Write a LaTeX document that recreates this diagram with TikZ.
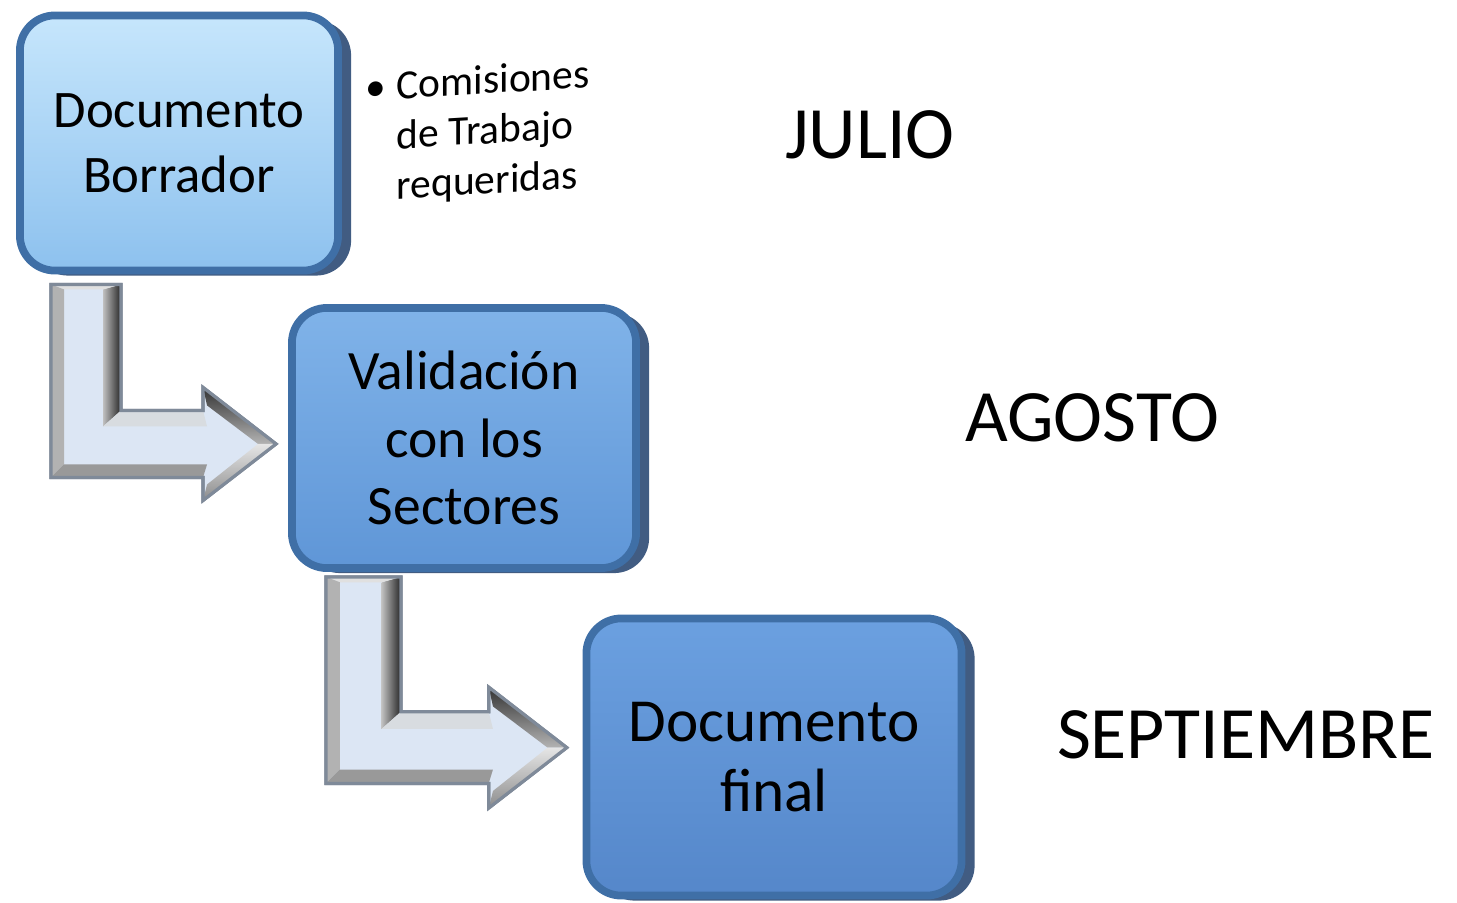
\documentclass[tikz,border=0pt]{standalone}
\usepackage{fontspec}
\setmainfont{Carlito}
\usetikzlibrary{positioning,shadows,calc}

\definecolor{edgeblue}{HTML}{3F6FA6}
\definecolor{sideblue}{HTML}{2C4A74}
\definecolor{arrowface}{HTML}{DCE6F4}
\definecolor{arrowedge}{HTML}{7F8A99}
\definecolor{draftTop}{HTML}{C6E6FC}
\definecolor{draftBot}{HTML}{8DC1EE}
\definecolor{validTop}{HTML}{80B3E9}
\definecolor{validBot}{HTML}{5F96D7}
\definecolor{finalTop}{HTML}{6BA0E0}
\definecolor{finalBot}{HTML}{5587CA}

\tikzset{
  stage/.style={rectangle, rounded corners=0.35cm, draw=edgeblue, line width=2.2pt,
    align=center, inner sep=0pt,
    drop shadow={shadow xshift=0.13cm, shadow yshift=-0.05cm, fill=sideblue, opacity=0.9}},
  month/.style={font=\fontsize{21pt}{25pt}\selectfont},
  note/.style={font=\fontsize{11.8pt}{14.2pt}\selectfont, inner sep=0pt, yslant=0.06},
  bentarrow/.pic={
    % body of the bent arrow
    \draw[fill=arrowface, draw=arrowedge, line width=0.9pt, line join=miter]
      (0,0) -- (70,0) -- (70,126) -- (152,126) -- (152,103) -- (225,159.5)
      -- (152,216) -- (152,193) -- (0,193) -- cycle;
    % bevels
    \shade[left color=black!25, right color=black!85]
      (52,5) -- (70,0) -- (70,126) -- (52,142) -- cycle;
    \shade[top color=black!80, bottom color=black!30]
      (152,103) -- (225,159.5) -- (207,159.5) -- (156,121) -- cycle;
    \shade[top color=black!10, bottom color=black!45]
      (152,216) -- (225,159.5) -- (207,159.5) -- (156,200) -- cycle;
    \fill[black!12] (0,0) -- (70,0) -- (52,5) -- (13,5) -- cycle;
    \fill[black!30] (0,0) -- (13,5) -- (13,180) -- (0,193) -- cycle;
    \fill[black!40] (0,193) -- (13,180) -- (156,180) -- (152,193) -- cycle;
    \fill[white!70!arrowedge] (52,142) -- (70,126) -- (152,126) -- (156,142) -- cycle;
    \draw[arrowedge, line width=0.9pt]
      (0,0) -- (70,0) -- (70,126) -- (152,126) -- (152,103) -- (225,159.5)
      -- (152,216) -- (152,193) -- (0,193) -- cycle;
  }
}

\begin{document}
\begin{tikzpicture}[x=0.01cm, y=-0.01cm]
  \useasboundingbox (0,0) rectangle (1457,903);

  \node[stage, minimum width=3.18cm, minimum height=2.55cm,
        top color=draftTop, bottom color=draftBot,
        font=\fontsize{15pt}{18.5pt}\selectfont] (b1) at (179,143) {Documento\\Borrador};
  \node[stage, minimum width=3.44cm, minimum height=2.6cm,
        top color=validTop, bottom color=validBot,
        font=\fontsize{15.8pt}{19.3pt}\selectfont] (b2) at (464,438) {Validación\\con los\\Sectores};
  \node[stage, minimum width=3.75cm, minimum height=2.77cm,
        top color=finalTop, bottom color=finalBot,
        font=\fontsize{17.4pt}{20pt}\selectfont] (b3) at (774,757) {Documento\\final};

  \node[note, anchor=west] (n1) at ($(b1.east)+(23,-2)$)
    {\begin{tabular}{@{}l@{\hspace{0.25em}}l@{}}
       \textbullet & Comisiones\\
                   & de Trabajo\\
                   & requeridas
     \end{tabular}};

  \pic at ($(b1.south west)+(35,10)$) {bentarrow};
  \pic[scale=1.07] at ($(b2.south west)+(38,5)$) {bentarrow};

  \node[month] (m1) at (870,135) {JULIO};
  \node[month] (m2) at (1092,418) {AGOSTO};
  \node[month] (m3) at (1246,735) {SEPTIEMBRE};
\end{tikzpicture}
\end{document}
